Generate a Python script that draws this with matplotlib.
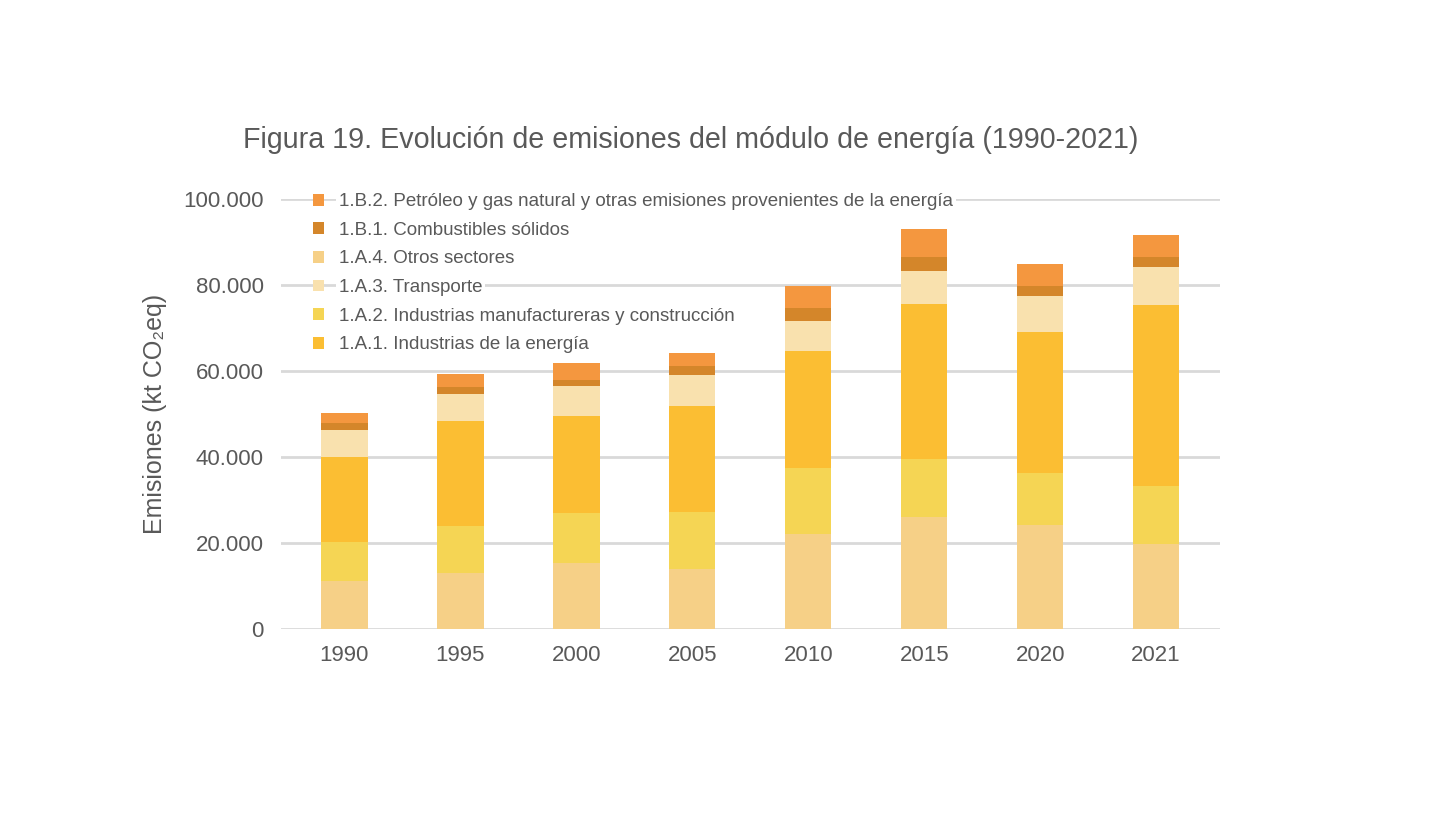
import matplotlib
matplotlib.use("Agg")
import matplotlib.pyplot as plt
import numpy as np

plt.rcParams['font.family'] = ['Liberation Sans', 'DejaVu Sans']

years = ["1990", "1995", "2000", "2005", "2010", "2015", "2020", "2021"]
otros = [11200, 13000, 15300, 14000, 22000, 26000, 24200, 19800]
manuf = [9100, 11000, 11700, 13200, 15400, 13500, 12000, 13400]
energia = [19700, 24300, 22500, 24600, 27200, 36200, 32800, 42100]
transporte = [6300, 6400, 7000, 7400, 7100, 7600, 8500, 9000]
solidos = [1700, 1700, 1500, 2000, 3100, 3400, 2300, 2200]
petroleo = [2300, 3000, 3800, 3100, 5000, 6400, 5200, 5300]

series = [
    ("1.A.4. Otros sectores", otros, "#F6D087"),
    ("1.A.2. Industrias manufactureras y construcción", manuf, "#F5D554"),
    ("1.A.1. Industrias de la energía", energia, "#FBBE33"),
    ("1.A.3. Transporte", transporte, "#F9E1AE"),
    ("1.B.1. Combustibles sólidos", solidos, "#D4862A"),
    ("1.B.2. Petróleo y gas natural y otras emisiones provenientes de la energía", petroleo, "#F4973F"),
]

fig = plt.figure(figsize=(14.54, 8.24), dpi=100)
ax = fig.add_axes([0.193, 0.237, 0.646, 0.521])
x = np.arange(len(years))
bottom = np.zeros(len(years))
handles = {}
for name, vals, col in series:
    b = ax.bar(x, vals, 0.4, bottom=bottom, color=col, label=name, zorder=3)
    handles[name] = b
    bottom += np.array(vals)

ax.set_ylim(0, 100000)
ax.set_xlim(-0.55, len(years) - 0.45)
ax.set_yticks(np.arange(0, 100001, 20000))
ax.set_yticklabels([f"{v:,}".replace(",", ".") for v in range(0, 100001, 20000)])
ax.set_xticks(x)
ax.set_xticklabels(years)
ax.grid(axis='y', color='#D9D9D9', linewidth=2, zorder=0)
for s in ax.spines.values():
    s.set_visible(False)
ax.tick_params(length=0, labelsize=16, colors='#595959', pad=12)
ax.set_ylabel("Emisiones (kt CO₂eq)", fontsize=18, color='#595959', labelpad=12)

order = ["1.B.2. Petróleo y gas natural y otras emisiones provenientes de la energía",
         "1.B.1. Combustibles sólidos", "1.A.4. Otros sectores", "1.A.3. Transporte",
         "1.A.2. Industrias manufactureras y construcción", "1.A.1. Industrias de la energía"]
leg = ax.legend([handles[o] for o in order], order, loc='upper left',
                bbox_to_anchor=(0.02, 1.045), frameon=False, fontsize=13.5,
                handlelength=0.6, handleheight=0.6, labelspacing=0.62, borderpad=0.2,
                handletextpad=0.8, labelcolor='#595959')
leg.set_zorder(5)
for t in leg.get_texts():
    t.set_bbox(dict(facecolor='white', edgecolor='none', pad=2))

fig.text(0.475, 0.83, "Figura 19. Evolución de emisiones del módulo de energía (1990-2021)",
         ha='center', va='center', fontsize=20.6, color='#595959')

fig.savefig("out.png", dpi=100, facecolor='white')
